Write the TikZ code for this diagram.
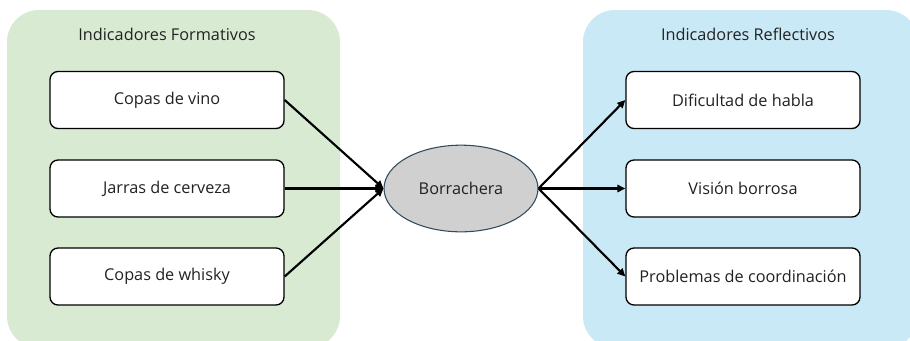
\documentclass[tikz,border=0pt]{standalone}
\usepackage{fontspec}
\setmainfont{Open Sans}
\usetikzlibrary{shapes.geometric,arrows.meta}
\definecolor{greenpanel}{HTML}{D9EAD3}
\definecolor{bluepanel}{HTML}{CAE9F6}
\definecolor{ellfill}{HTML}{D0D0D0}
\definecolor{ellline}{HTML}{2F4B5F}
\definecolor{txt}{HTML}{222222}
\begin{document}
\begin{tikzpicture}[x=0.75pt,y=-0.75pt,
  panel/.style={rounded corners=24pt},
  txtfont/.style={font=\fontsize{12.2}{14}\selectfont,text=txt},
  itembox/.style={draw=black,line width=1pt,fill=white,rounded corners=6pt,
    minimum width=175.5pt,minimum height=42.75pt,inner sep=0pt,txtfont},
  title/.style={txtfont},
  conn/.style={line width=1.6pt,-{Triangle[length=6pt,width=5.5pt]}}]
\useasboundingbox (0,0) rectangle (910,340);
\clip (0,0) rectangle (910,340);
\fill[greenpanel,panel] (7,10) rectangle (340,348);
\fill[bluepanel,panel] (583,10) rectangle (918,348);
\node[title] (tf) at (167,34) {Indicadores Formativos};
\node[title] (tr) at (748,34) {Indicadores Reflectivos};
\node[itembox] (a) at (167,100) {Copas de vino};
\node[itembox] (b) at (167,188.5) {Jarras de cerveza};
\node[itembox] (c) at (167,276.5) {Copas de whisky};
\node[itembox] (d) at (743,100) {Dificultad de habla};
\node[itembox] (e) at (743,188.5) {Visión borrosa};
\node[itembox] (f) at (743,276.5) {Problemas de coordinación};
\node[ellipse,draw=ellline,line width=0.8pt,fill=ellfill,minimum width=115.5pt,minimum height=65pt,inner sep=0pt,txtfont] (g) at (461,188.5) {Borrachera};
\draw[conn] (a.east) -- (g.west);
\draw[conn] (b.east) -- (g.west);
\draw[conn] (c.east) -- (g.west);
\draw[conn] (g.east) -- (d.west);
\draw[conn] (g.east) -- (e.west);
\draw[conn] (g.east) -- (f.west);
\end{tikzpicture}
\end{document}
